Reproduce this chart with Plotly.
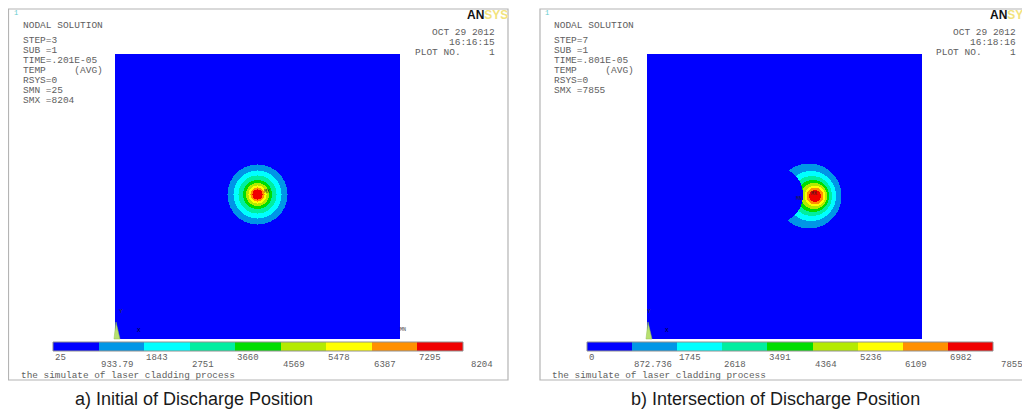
import numpy as np
import plotly.graph_objects as go

# ---------------- data ----------------
levels_a = ["25", "933.79", "1843", "2751", "3660", "4569", "5478", "6387", "7295", "8204"]
levels_b = ["0", "872.736", "1745", "2618", "3491", "4364", "5236", "6109", "6982", "7855"]
band_colors = ["#0000FF", "#0096E6", "#00FFFF", "#00EEA0", "#00DD00",
               "#B4EA00", "#FFFF00", "#FF9000", "#F00000"]
# contour band outer radii (px in plot square), band 1 .. band 8
radii_a = [30, 24, 19, 14.5, 11.5, 9, 7, 5]
radii_b = [32.5, 25, 20, 16, 13, 10.5, 8.5, 6]
# horizontal offset of each band centre from the hot spot (square b trails to the left)
shift_b = [-6, -4, -3, -2, -1, 0, 0, 0]
hot_a = (142.5, 140.5)          # hot spot centre in square a
hot_b = (168, 142)              # hot spot centre in square b
cut_b = (128, 141, 28)          # cooled (discharged) disc in square b
info_a = ["STEP=3", "SUB =1", "TIME=.201E-05", "TEMP     (AVG)", "RSYS=0", "SMN =25", "SMX =8204"]
info_b = ["STEP=7", "SUB =1", "TIME=.801E-05", "TEMP     (AVG)", "RSYS=0", "SMX =7855"]
time_a = "16:16:15"
time_b = "16:18:16"
caption_a = "a) Initial of Discharge Position"
caption_b = "b) Intersection of Discharge Position"

OFF = 8                      # page body margin
W, H = 1030 - OFF, 414 - OFF


def px(x):
    return (x - OFF) / W


def py(y):
    return 1 - (y - OFF) / H


def field(w, h, c, radii, shifts=None, cut=None):
    xs = np.arange(w) + 0.5
    ys = np.arange(h) + 0.5
    X, Y = np.meshgrid(xs, ys)
    band = np.zeros(X.shape, dtype=int)
    for k, rad in enumerate(radii):
        dx = shifts[k] if shifts is not None else 0
        r = np.hypot(X - c[0] - dx, Y - c[1])
        band[r <= rad] = k + 1
    if cut is not None:
        band[np.hypot(X - cut[0], Y - cut[1]) <= cut[2]] = 0
    return xs, ys, band


n = len(band_colors)
cscale = []
for i, c in enumerate(band_colors):
    cscale.append([i / n, c])
    cscale.append([(i + 1) / n, c])

fig = go.Figure()

panels = [
    dict(sq=(115, 54, 400, 339), w=285, h=285, hot=hot_a, radii=radii_a, shifts=None, cut=None,
         cb=(53, 342, 463, 351), levels=levels_a, frame=(8.5, 9, 508, 380),
         info=info_a, time=time_a, caption=caption_a, cap_x=193.5, date_r=497,
         logo_x=465, mn=True),
    dict(sq=(647, 54, 922, 339), w=275, h=285, hot=hot_b, radii=radii_b, shifts=shift_b, cut=cut_b,
         cb=(587, 342, 993, 351), levels=levels_b, frame=(540, 9, 1040, 380),
         info=info_b, time=time_b, caption=caption_b, cap_x=775, date_r=1018,
         logo_x=988, mn=False),
]

shapes = []
annotations = []
mono = "Liberation Mono, Courier New, monospace"
gray = "#5e5e5e"

for k, p in enumerate(panels):
    ax_i = 2 * k + 1
    cb_i = 2 * k + 2
    xs, ys, z = field(p["w"], p["h"], p["hot"], p["radii"], p["shifts"], p["cut"])
    sfx = "" if ax_i == 1 else str(ax_i)
    fig.add_trace(go.Heatmap(x=xs, y=ys, z=z, colorscale=cscale, zmin=-0.5, zmax=n - 0.5,
                             showscale=False, hoverinfo="skip",
                             xaxis="x" + sfx, yaxis="y" + sfx))
    x0, y0, x1, y1 = p["sq"]
    fig.update_layout(**{
        "xaxis" + sfx: dict(domain=[px(x0), px(x1)], range=[0, p["w"]], visible=False,
                            anchor="y" + sfx),
        "yaxis" + sfx: dict(domain=[py(y1), py(y0)], range=[p["h"], 0], visible=False,
                            anchor="x" + sfx),
    })
    # colour bar as a 1 x n heatmap
    cx0, cy0, cx1, cy1 = p["cb"]
    csfx = str(cb_i)
    fig.add_trace(go.Heatmap(x=list(range(n)), y=[0], z=[list(range(n))], colorscale=cscale,
                             zmin=-0.5, zmax=n - 0.5, showscale=False, hoverinfo="skip",
                             xaxis="x" + csfx, yaxis="y" + csfx))
    fig.update_layout(**{
        "xaxis" + csfx: dict(domain=[px(cx0), px(cx1)], range=[-0.5, n - 0.5], visible=False,
                             anchor="y" + csfx),
        "yaxis" + csfx: dict(domain=[py(cy1), py(cy0)], range=[-0.5, 0.5], visible=False,
                             anchor="x" + csfx),
    })
    shapes.append(dict(type="rect", xref="paper", yref="paper", x0=px(cx0), x1=px(cx1),
                       y0=py(cy1), y1=py(cy0), line=dict(color="#909090", width=1)))
    for i, lab in enumerate(p["levels"]):
        bx = cx0 + (cx1 - cx0) * i / n + (6 if i == n else 0)
        annotations.append(dict(xref="paper", yref="paper", x=px(bx),
                                y=py(357.5 if i % 2 == 0 else 364.5),
                                text=lab, showarrow=False, xanchor="left", yanchor="middle",
                                font=dict(family=mono, size=9, color=gray)))
    # frame
    fx0, fy0, fx1, fy1 = p["frame"]
    shapes.append(dict(type="rect", xref="paper", yref="paper", x0=px(fx0), x1=px(fx1),
                       y0=py(fy1), y1=py(fy0), line=dict(color="#b4b4b4", width=1.2),
                       layer="below"))
    # header texts
    tx = fx0 + 12
    annotations.append(dict(xref="paper", yref="paper", x=px(fx0 + 3), y=py(13), text="1",
                            showarrow=False, xanchor="left", yanchor="middle",
                            font=dict(family=mono, size=7, color="#66cccc")))
    annotations.append(dict(xref="paper", yref="paper", x=px(tx), y=py(25), text="NODAL SOLUTION",
                            showarrow=False, xanchor="left", yanchor="middle",
                            font=dict(family=mono, size=9.5, color=gray)))
    for j, line in enumerate(p["info"]):
        annotations.append(dict(xref="paper", yref="paper", x=px(tx), y=py(40 + j * 10.1),
                                text=line.replace(" ", "&nbsp;"), showarrow=False,
                                xanchor="left", yanchor="middle",
                                font=dict(family=mono, size=9.5, color=gray)))
    for j, line in enumerate(["OCT 29 2012", p["time"], "PLOT NO.     1"]):
        annotations.append(dict(xref="paper", yref="paper", x=px(p["date_r"]), y=py(33 + j * 9.7),
                                text=line.replace(" ", "&nbsp;"), showarrow=False,
                                xanchor="right", yanchor="middle",
                                font=dict(family=mono, size=9.5, color=gray)))
    annotations.append(dict(xref="paper", yref="paper", x=px(p["logo_x"]), y=py(14.5),
                            text="<b>AN</b><span style='color:#f2e37c'><b>SYS</b></span>",
                            showarrow=False, xanchor="left", yanchor="middle",
                            font=dict(family="Liberation Sans, Arial", size=12, color="#111")))
    annotations.append(dict(xref="paper", yref="paper", x=px(fx0 + 10), y=py(375.5),
                            text="the simulate of laser cladding process", showarrow=False,
                            xanchor="left", yanchor="middle",
                            font=dict(family=mono, size=9.4, color=gray)))
    annotations.append(dict(xref="paper", yref="paper", x=px(p["cap_x"]), y=py(399),
                            text=p["caption"], showarrow=False, xanchor="center", yanchor="middle",
                            font=dict(family="Liberation Sans, Arial", size=18, color="#1a1a1a")))
    # axis triad and labels
    shapes.append(dict(type="path", xref="paper", yref="paper",
                       path="M %f %f L %f %f L %f %f Z" % (px(x0 - 1), py(339), px(x0 + 5), py(339),
                                                          px(x0 + 1), py(322)),
                       fillcolor="#b8e070", line=dict(color="#90c050", width=0.5)))
    annotations.append(dict(xref="paper", yref="paper", x=px(x0 + 2), y=py(317), text="Y",
                            showarrow=False, font=dict(family=mono, size=6, color="#333")))
    annotations.append(dict(xref="paper", yref="paper", x=px(x0 + 20), y=py(336), text="X",
                            showarrow=False, font=dict(family=mono, size=6, color="#002")))
    hx = x0 + p["hot"][0]
    hy = y0 + p["hot"][1]
    annotations.append(dict(xref="paper", yref="paper", x=px(hx + 4), y=py(hy - 2), text="MX",
                            showarrow=False, font=dict(family=mono, size=5, color="#222")))
    if p["mn"]:
        annotations.append(dict(xref="paper", yref="paper", x=px(x1 + 3), y=py(335), text="MN",
                                showarrow=False, font=dict(family=mono, size=5, color="#444")))
    else:
        annotations.append(dict(xref="paper", yref="paper", x=px(hx - 11), y=py(hy + 3), text="MN",
                                showarrow=False, font=dict(family=mono, size=5, color="#222")))

fig.update_layout(width=W, height=H, margin=dict(l=0, r=0, t=0, b=0),
                  paper_bgcolor="white", plot_bgcolor="white",
                  shapes=shapes, annotations=annotations, showlegend=False)

fig.write_html("out.html")
